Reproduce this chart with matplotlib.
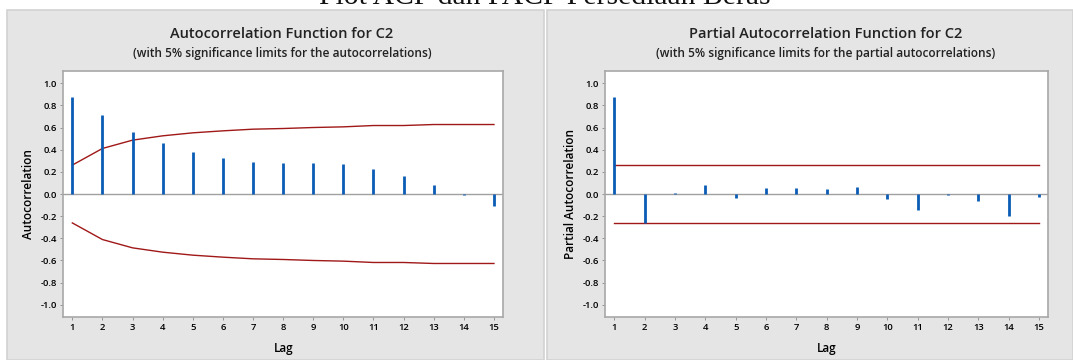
import matplotlib
matplotlib.use("Agg")
import matplotlib.pyplot as plt
from matplotlib.patches import Rectangle
import numpy as np

plt.rcParams['font.family'] = ['Open Sans', 'DejaVu Sans']

lags = np.arange(1, 16)
acf = [0.879, 0.712, 0.559, 0.459, 0.375, 0.327, 0.291, 0.282, 0.282, 0.273,
       0.225, 0.159, 0.084, -0.013, -0.105]
acf_limit = [0.261, 0.411, 0.486, 0.525, 0.552, 0.570, 0.585, 0.591, 0.600, 0.606,
             0.618, 0.618, 0.627, 0.627, 0.627]
pacf = [0.876, -0.26, 0.01, 0.08, -0.04, 0.054, 0.054, 0.048, 0.063, -0.048,
        -0.147, -0.012, -0.066, -0.198, -0.03]
pacf_limit = 0.258
yticks = [1.0, 0.8, 0.6, 0.4, 0.2, 0.0, -0.2, -0.4, -0.6, -0.8, -1.0]

W, H = 1073, 360
fig = plt.figure(figsize=(W / 100, H / 100), dpi=100)
fig.patch.set_facecolor('white')

# grey panel backgrounds
for x0, x1 in [(7, 544), (547, 1073)]:
    fig.patches.append(Rectangle((x0 / W, 0), (x1 - x0) / W, 1 - 10 / H,
                                 transform=fig.transFigure, facecolor='#e5e5e5',
                                 edgecolor='#d2d2d2', linewidth=1.2, zorder=-5))

fig.text(545 / W, 1 - 4.5 / H, 'Plot ACF dan PACF Persediaan Beras', family='Liberation Serif',
         fontsize=21.3, ha='center', va='baseline', color='#111111')

blue = '#0a5cb4'
red = '#a01818'


def setup(ax, ylabel, title, subtitle, cx):
    ax.set_zorder(2)
    ax.set_xlim(0.7, 15.31)
    ax.set_ylim(-1.11, 1.11)
    ax.set_xticks(lags)
    ax.set_yticks(yticks)
    ax.set_yticklabels(['%.1f' % v for v in yticks])
    ax.tick_params(labelsize=6.8, length=2.5, width=0.6, color='#888888', pad=2)
    for lab in ax.get_xticklabels() + ax.get_yticklabels():
        lab.set_fontweight('semibold')
    for s in ax.spines.values():
        s.set_color('#a8a8a8')
        s.set_linewidth(1.2)
    ax.axhline(0, color='#a0a0a0', lw=1.0, zorder=1)
    ax.set_xlabel('Lag', fontsize=8.5, fontweight='semibold', labelpad=7)
    ax.set_ylabel(ylabel, fontsize=8.5, fontweight='semibold', labelpad=4)
    fig.text(cx / W, 1 - 34 / H, title, fontsize=10.5, fontweight='semibold',
             ha='center', va='center', color='#222222')
    fig.text(cx / W, 1 - 53 / H, subtitle, fontsize=8.6, fontweight='semibold',
             ha='center', va='center', color='#222222')


ax1 = fig.add_axes([63.3 / W, 1 - 317 / H, 440 / W, 246 / H])
ax1.vlines(lags, 0, acf, color=blue, lw=2, zorder=3)
ax1.plot(lags, acf_limit, color=red, lw=1, zorder=2)
ax1.plot(lags, [-v for v in acf_limit], color=red, lw=1, zorder=2)
setup(ax1, 'Autocorrelation', 'Autocorrelation Function for C2',
      '(with 5% significance limits for the autocorrelations)', 282)

ax2 = fig.add_axes([605.3 / W, 1 - 317 / H, 443 / W, 246 / H])
ax2.vlines(lags, 0, pacf, color=blue, lw=2, zorder=3)
ax2.plot([lags[0], lags[-1]], [pacf_limit, pacf_limit], color=red, lw=1, zorder=2)
ax2.plot([lags[0], lags[-1]], [-pacf_limit, -pacf_limit], color=red, lw=1, zorder=2)
setup(ax2, 'Partial Autocorrelation', 'Partial Autocorrelation Function for C2',
      '(with 5% significance limits for the partial autocorrelations)', 826)

fig.savefig('out.png', dpi=100)
